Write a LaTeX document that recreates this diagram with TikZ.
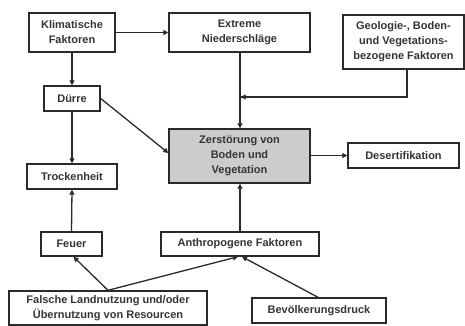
\documentclass[tikz,border=0pt]{standalone}
\usepackage{fontspec}
\setmainfont{Liberation Sans}
\usetikzlibrary{arrows.meta}
\definecolor{ink}{HTML}{2A2A2A}
\definecolor{txt}{HTML}{353535}
\definecolor{boxgray}{HTML}{CCCCCC}
\begin{document}
\begin{tikzpicture}[x=1pt,y=-1pt,
  box/.style={draw=ink,line width=1.4pt,fill=white,align=center,inner sep=0pt,
    font=\fontsize{11}{15}\selectfont\bfseries,text=txt},
  conn/.style={draw=ink,line width=1.3pt,-{Triangle[length=5pt,width=5pt]}},
  line/.style={draw=ink,line width=1.3pt}]
\useasboundingbox (0,0) rectangle (465,326);
\node[box,minimum width=86pt,minimum height=39pt] (klima) at (72,32.5) {Klimatische\\Faktoren};
\node[box,minimum width=141pt,minimum height=39pt] (extreme) at (239.5,32.5) {Extreme\\Niederschläge};
\node[box,minimum width=121pt,minimum height=54pt] (geo) at (403.5,42) {Geologie-, Boden-\\und Vegetations-\\bezogene Faktoren};
\node[box,minimum width=56pt,minimum height=25pt] (duerre) at (72,98.5) {Dürre};
\node[box,fill=boxgray,minimum width=141pt,minimum height=54pt] (zer) at (239.5,156) {Zerstörung von\\Boden und\\Vegetation};
\node[box,minimum width=111pt,minimum height=25pt] (des) at (403.5,155.5) {Desertifikation};
\node[box,minimum width=90pt,minimum height=25pt] (trocken) at (72,176.5) {Trockenheit};
\node[box,minimum width=61pt,minimum height=24pt] (feuer) at (71.5,244) {Feuer};
\node[box,minimum width=158pt,minimum height=24pt] (anthro) at (240,244) {Anthropogene Faktoren};
\node[box,minimum width=198pt,minimum height=34pt] (falsch) at (108,308) {Falsche Landnutzung und/oder\\Übernutzung von Resourcen};
\node[box,minimum width=134pt,minimum height=25pt] (bev) at (319,310.5) {Bevölkerungsdruck};
\coordinate (j) at (240,97);
\coordinate (gb) at (407,69);
\draw[conn] (klima.east) -- (extreme.west);
\draw[conn] (klima.south) -- (duerre.north);
\draw[conn] (duerre.south) -- (trocken.north);
\draw[conn] (feuer.north) -- (trocken.south);
\draw[conn] (duerre.east) -- (zer.west |- 0,153);
\draw[conn] (extreme.south -| j) -- (zer.north -| j);
\draw[line] (gb) |- (j) ;
\draw[conn] (gb |- j) -- ([xshift=0.7pt]j);
\draw[conn] (falsch.north) -- ([xshift=2pt]feuer.south);
\draw[conn] (falsch.north) -- ([xshift=-2pt]anthro.south);
\draw[conn] ([xshift=-1pt]bev.north) -- ([xshift=2pt]anthro.south);
\draw[conn] (anthro.north) -- (zer.south -| anthro.north);
\draw[conn] (zer.east |- des.west) -- (des.west);
\end{tikzpicture}
\end{document}
